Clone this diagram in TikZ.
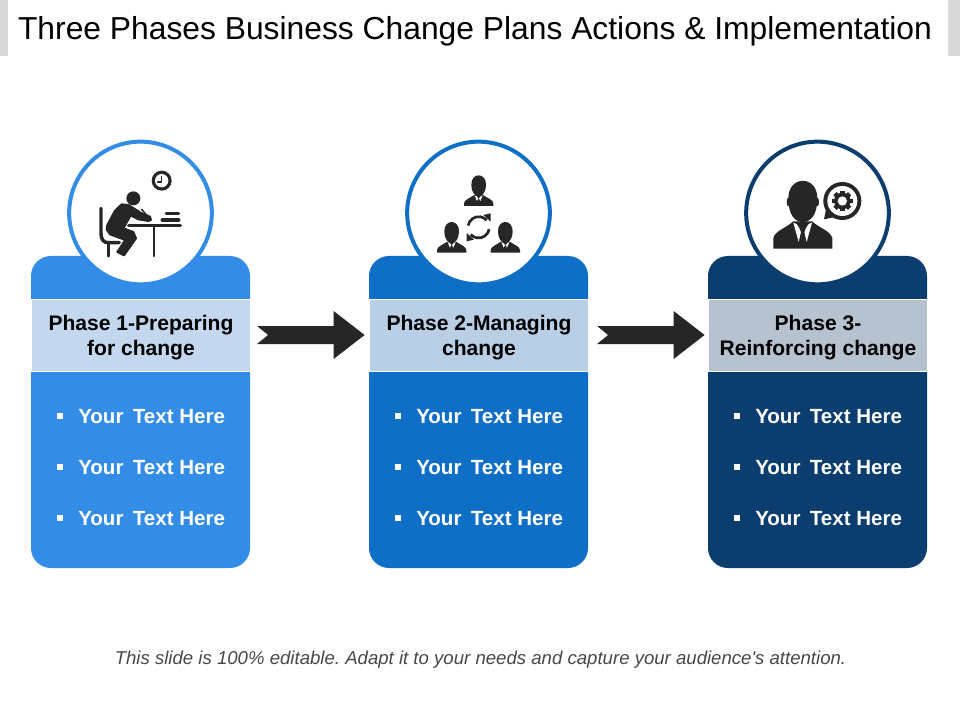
\documentclass[tikz,border=0pt]{standalone}
\usepackage{fontspec}
\setmainfont{Liberation Sans}
\definecolor{cA}{HTML}{338DE6}
\definecolor{cB}{HTML}{0F6EC6}
\definecolor{cC}{HTML}{0B3D6E}
\definecolor{bA}{HTML}{C3D8EE}
\definecolor{bB}{HTML}{B8CFE6}
\definecolor{bC}{HTML}{B6C2CF}
\definecolor{ink}{HTML}{262626}
\definecolor{strip}{HTML}{D9D9D9}
\tikzset{
  panelbox/.style={rectangle,rounded corners=15pt,minimum width=164.25pt,minimum height=234pt,inner sep=0pt,draw=none},
  bandbox/.style={rectangle,minimum width=164.25pt,minimum height=54pt,inner sep=0pt,draw=white,line width=.6pt},
  bandtext/.style={inner sep=0pt,align=center,text=black,font=\fontsize{15.8}{18.75}\selectfont\bfseries},
  ringbox/.style={circle,fill=white,minimum size=107pt,inner sep=0pt,line width=3pt},
  itemtext/.style={anchor=west,inner sep=0pt,text=white,font=\fontsize{15.4}{18}\selectfont\bfseries},
  bulletbox/.style={rectangle,fill=white,minimum size=4pt,inner sep=0pt},
  blockarrow/.style={fill=ink,draw=none},
  iconline/.style={draw=ink,line cap=round,line join=round},
}
\newcommand{\phasepanel}[6]{% id, centre x, fill, band, ring, label
  \node[panelbox,fill=#3] (panel#1) at (#2,412) {};
  \node[bandbox,fill=#4] (band#1) at (#2,335) {};
  \node[bandtext] (label#1) at (#2+.5,338) {#6};
  \node[ringbox,draw=#5] (ring#1) at (#2,213) {};
  \foreach \n/\y in {1/417,2/468,3/519}{
    \node[bulletbox] (bullet#1\n) at (#2-80.5,\y-1) {};
    \node[itemtext] (item#1\n) at (#2-62.5,\y) {Your\hspace{.18em} Text Here};
  }
}
\newcommand{\minibust}[2]{% bottom centre in zoom units
  \begin{scope}[shift={(#1,#2)}]
    \fill[ink] (-22,-62) .. controls (-24,-102) and (24,-102) .. (22,-62) .. controls (22,-42) and (10,-28) .. (0,-28) .. controls (-10,-28) and (-22,-42) .. (-22,-62) -- cycle;
    \fill[ink] (-44,0) -- (-44,-8) .. controls (-44,-18) and (-26,-24) .. (-13,-33) -- (13,-33) .. controls (26,-24) and (44,-18) .. (44,-8) -- (44,0) -- cycle;
    \fill[white] (-12,-31) -- (-5,-15) -- (-1,-23) -- (-7,-30) -- cycle;
    \fill[white] (12,-31) -- (5,-15) -- (1,-23) -- (7,-30) -- cycle;
  \end{scope}
}
\begin{document}
\begin{tikzpicture}[x=.75pt,y=-.75pt]
\useasboundingbox (0,0) rectangle (960,720);
\frenchspacing
\fill[strip] (0,0) rectangle (8,56);
\fill[strip] (948,0) rectangle (960,56);
\node[anchor=center,inner sep=0pt,text=black,font=\fontsize{23.85}{28}\selectfont] (title) at (475,31.5) {Three Phases Business Change Plans Actions \& Implementation};

\phasepanel{A}{140.5}{cA}{bA}{cA}{Phase 1-Preparing\\for change}
\phasepanel{B}{478.5}{cB}{bB}{cB}{Phase 2-Managing\\change}
\phasepanel{C}{817.5}{cC}{bC}{cC}{Phase 3-\\Reinforcing change}

% block arrows
\path (bandA.east) ++(6.7,0) coordinate (arrowA);
\path (bandB.east) ++(8.7,0) coordinate (arrowB);
\foreach \a in {arrowA,arrowB}{
  \begin{scope}[shift={(\a)}]
    \fill[blockarrow] (0,-9) -- (76.5,-9) -- (76.5,-24) -- (107.5,0) -- (76.5,24) -- (76.5,9) -- (0,9) -- (11,0) -- cycle;
  \end{scope}
}

% icon 1: person at desk
\begin{scope}[shift={(100,170)},x=.25pt,y=-.25pt]
  \fill[ink] (185,32) circle (30);
  \fill[white] (185,32) circle (20);
  \draw[iconline,line width=1.1pt] (185,19) -- (185,36) -- (173,36);
  \fill[ink] (100,85) circle (21);
  \filldraw[ink,line join=round,line width=1.5pt] (65,103) -- (85,105) -- (125,130) -- (150,140) -- (153,150) -- (145,153) -- (115,148) -- (92,136) -- (70,175) -- (100,186) -- (108,205) -- (72,256) -- (52,246) -- (76,210) -- (30,193) -- (20,178) -- (22,165) -- (45,122) -- cycle;
  \draw[iconline,line width=1.1pt] (125,118) -- (142,138);
  \draw[iconline,line width=2.6pt] (3,115) -- (3,190) .. controls (3,208) and (10,218) .. (25,218) -- (58,218);
  \draw[iconline,line width=2.6pt] (25,220) -- (25,258);
  \draw[iconline,line width=2.6pt] (86,167) -- (241,167);
  \draw[iconline,line width=2.2pt] (162,170) -- (162,258);
  \draw[iconline,line width=2pt] (198,130) -- (236,130);
  \draw[iconline,line width=2.8pt] (187,150) -- (236,150);
\end{scope}

% icon 2: three people around a cycle
\begin{scope}[shift={(400,130)},x=.25pt,y=-.25pt]
  \minibust{236}{228}
  \minibust{155}{368}
  \minibust{316}{368}
  \draw[ink,line width=2pt] (236,292) ++(190:32) arc[start angle=190,end angle=318,radius=32];
  \draw[ink,line width=2pt] (236,292) ++(10:32) arc[start angle=10,end angle=138,radius=32];
  \fill[ink] (250,255) -- (272,250) -- (272,275) -- cycle;
  \fill[ink] (222,329) -- (200,334) -- (200,309) -- cycle;
\end{scope}

% icon 3: person with gear bubble
\begin{scope}[shift={(740,130)},x=.25pt,y=-.25pt]
  \fill[ink] (145,205) .. controls (145,135) and (232,135) .. (232,205) .. controls (232,255) and (212,276) .. (188,276) .. controls (165,276) and (145,255) .. (145,205) -- cycle;
  \fill[ink] (145,216) ellipse (5 and 13);
  \fill[ink] (232,216) ellipse (5 and 13);
  \fill[ink] (100,356) -- (100,325) .. controls (104,303) and (135,296) .. (160,274) -- (216,274) .. controls (241,296) and (272,303) .. (277,325) -- (277,356) -- cycle;
  \fill[white] (160,278) -- (176,336) -- (184,304) -- (170,282) -- cycle;
  \fill[white] (216,278) -- (200,336) -- (192,304) -- (206,282) -- cycle;
  \fill[ink] (178,290) -- (198,290) -- (193,308) -- (199,338) -- (188,352) -- (177,338) -- (183,308) -- cycle;
  \fill[ink] (307,213) circle (57);
  \fill[ink] (252,268) -- (258,238) -- (280,262) -- cycle;
  \fill[white] (307,213) circle (45);
  \foreach \t in {0,45,...,315}{
    \fill[ink,rotate around={\t:(307,213)}] (300,182) rectangle (314,195);
  }
  \fill[ink] (307,213) circle (25);
  \fill[white] (307,213) circle (14);
\end{scope}

\node[inner sep=0pt,text=black!72,font=\fontsize{13.95}{16}\selectfont\itshape] (note) at (480.5,659.5) {This slide is 100\% editable. Adapt it to your needs and capture your audience\textquotesingle s attention.};
\end{tikzpicture}
\end{document}
